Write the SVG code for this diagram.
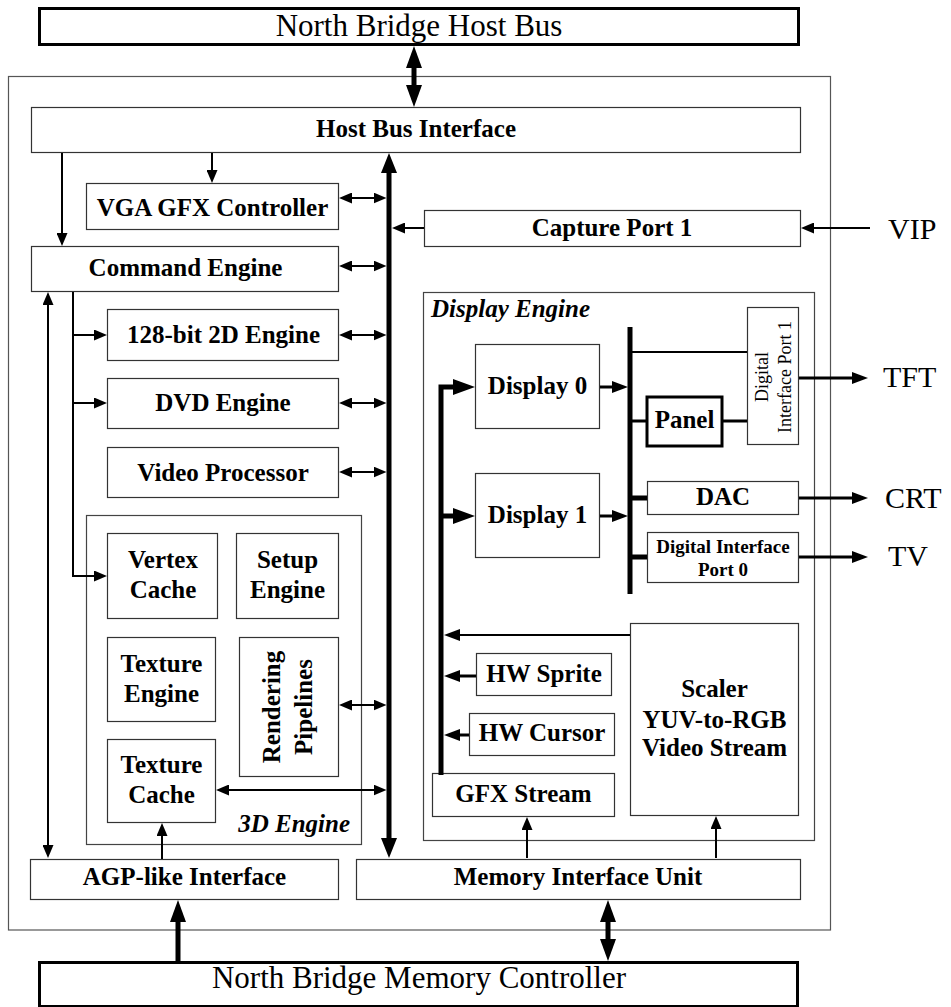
<svg xmlns="http://www.w3.org/2000/svg" width="951" height="1007" viewBox="0 0 951 1007">
<style>
text{font-family:"Liberation Serif","Times New Roman",serif;fill:#000}
.b{font-weight:bold;font-size:25px;text-anchor:middle}
.bi{font-weight:bold;font-style:italic;font-size:25px}
.r{font-size:31px;text-anchor:middle}
.ext{font-size:30px}
.sm{font-weight:bold;font-size:19px;text-anchor:middle}
.rot{font-size:18px;text-anchor:middle}
.box{fill:#fff;stroke:#333;stroke-width:1.2}
.frame{fill:none;stroke:#555;stroke-width:1.2}
.thick{fill:#fff;stroke:#000;stroke-width:3}
.c{fill:none;stroke:#000}
.w2{stroke-width:2}
.w3{stroke-width:3}
.w5{stroke-width:5}
</style>
<defs>
<marker id="s" markerUnits="userSpaceOnUse" viewBox="0 0 13 11" markerWidth="13" markerHeight="11" refX="5" refY="5.5" orient="auto-start-reverse"><path d="M0,0 L13,5.5 L0,11 z" fill="#000"/></marker>
<marker id="m" markerUnits="userSpaceOnUse" viewBox="0 0 16 12" markerWidth="16" markerHeight="12" refX="5" refY="6" orient="auto-start-reverse"><path d="M0,0 L16,6 L0,12 z" fill="#000"/></marker>
<marker id="L" markerUnits="userSpaceOnUse" viewBox="0 0 22 16" markerWidth="22" markerHeight="16" refX="7" refY="8" orient="auto-start-reverse"><path d="M0,0 L22,8 L0,16 z" fill="#000"/></marker>
<marker id="B" markerUnits="userSpaceOnUse" viewBox="0 0 20 16" markerWidth="20" markerHeight="16" refX="6" refY="8" orient="auto-start-reverse"><path d="M0,0 L20,8 L0,16 z" fill="#000"/></marker>
</defs>

<rect x="8.5" y="76.5" width="822" height="853.5" class="frame"/>

<g id="nb-host-bus"><rect x="39.5" y="8.5" width="759" height="36" class="thick"/><text x="419" y="36" class="r">North Bridge Host Bus</text></g>
<g id="host-bus-interface"><rect x="31.5" y="107.5" width="769" height="45" class="box"/><text x="416" y="137" class="b">Host Bus Interface</text></g>
<g id="vga"><rect x="86.5" y="183.5" width="252" height="46" class="box"/><text x="212.5" y="216" class="b">VGA GFX Controller</text></g>
<g id="capture-port"><rect x="424.5" y="210.5" width="376" height="36" class="box"/><text x="612" y="236" class="b">Capture Port 1</text></g>
<g id="command-engine"><rect x="31.5" y="246.5" width="307" height="45" class="box"/><text x="185.5" y="276" class="b">Command Engine</text></g>
<g id="engine-2d"><rect x="107.5" y="309.5" width="231" height="51" class="box"/><text x="223.5" y="343" class="b">128-bit 2D Engine</text></g>
<g id="dvd"><rect x="107.5" y="378.5" width="231" height="50" class="box"/><text x="223" y="411" class="b">DVD Engine</text></g>
<g id="video-processor"><rect x="107.5" y="447.5" width="231" height="50" class="box"/><text x="223" y="481" class="b">Video Processor</text></g>

<g id="engine-3d"><rect x="86.5" y="515.5" width="275" height="329" class="frame" style="stroke:#444"/><text x="350" y="832" class="bi" text-anchor="end">3D Engine</text></g>
<g id="vertex-cache"><rect x="107.5" y="533.5" width="110" height="85" class="box"/><text x="163" y="568" class="b">Vertex</text><text x="163" y="598" class="b">Cache</text></g>
<g id="setup-engine"><rect x="236.5" y="533.5" width="102" height="85" class="box"/><text x="287.5" y="568" class="b">Setup</text><text x="287.5" y="598" class="b">Engine</text></g>
<g id="texture-engine"><rect x="107.5" y="637.5" width="108" height="84" class="box"/><text x="161.5" y="672" class="b">Texture</text><text x="161.5" y="702" class="b">Engine</text></g>
<g id="rendering-pipelines"><rect x="239.5" y="637.5" width="99" height="139" class="box"/><text transform="translate(280,707) rotate(-90)" class="b">Rendering</text><text transform="translate(312,707) rotate(-90)" class="b">Pipelines</text></g>
<g id="texture-cache"><rect x="107.5" y="739.5" width="108" height="83" class="box"/><text x="161.5" y="773" class="b">Texture</text><text x="161.5" y="803" class="b">Cache</text></g>

<g id="display-engine"><rect x="423.5" y="292.5" width="391" height="548" class="frame" style="stroke:#444"/><text x="431" y="317" class="bi">Display Engine</text></g>
<g id="display0"><rect x="475.5" y="344.5" width="124" height="84" class="box"/><text x="537.5" y="394" class="b">Display 0</text></g>
<g id="display1"><rect x="475.5" y="473.5" width="124" height="84" class="box"/><text x="537.5" y="523" class="b">Display 1</text></g>
<g id="dip1"><rect x="747.5" y="307.5" width="51" height="137" class="box"/><text transform="translate(768,377) rotate(-90)" class="rot">Digital</text><text transform="translate(791,377) rotate(-90)" class="rot">Interface Port 1</text></g>
<g id="panel"><rect x="647" y="397" width="75" height="49" class="thick"/><text x="684.5" y="428" class="b">Panel</text></g>
<g id="dac"><rect x="647.5" y="481.5" width="151" height="33" class="box"/><text x="723" y="505" class="b">DAC</text></g>
<g id="dip0"><rect x="647.5" y="532.5" width="151" height="50" class="box"/><text x="723" y="553" class="sm">Digital Interface</text><text x="723" y="576" class="sm">Port 0</text></g>
<g id="scaler"><rect x="630.5" y="623.5" width="168" height="192" class="box"/><text x="714.5" y="697" class="b">Scaler</text><text x="714.5" y="728" class="b">YUV-to-RGB</text><text x="714.5" y="756" class="b">Video Stream</text></g>
<g id="hw-sprite"><rect x="476.5" y="653.5" width="135" height="42" class="box"/><text x="544" y="682" class="b">HW Sprite</text></g>
<g id="hw-cursor"><rect x="469.5" y="713.5" width="145" height="42" class="box"/><text x="542" y="741" class="b">HW Cursor</text></g>
<g id="gfx-stream"><rect x="432.5" y="773.5" width="182" height="43" class="box"/><text x="523.5" y="802" class="b">GFX Stream</text></g>

<g id="agp"><rect x="30.5" y="859.5" width="308" height="40" class="box"/><text x="184.5" y="885" class="b">AGP-like Interface</text></g>
<g id="miu"><rect x="356.5" y="859.5" width="444" height="40" class="box"/><text x="578" y="885" class="b">Memory Interface Unit</text></g>
<g id="nb-memory-controller"><rect x="39.5" y="962.5" width="758" height="44" class="thick"/><text x="419" y="988" class="r">North Bridge Memory Controller</text></g>

<g id="ext-labels">
<text x="888" y="239" class="ext">VIP</text>
<text x="883" y="387" class="ext">TFT</text>
<text x="885" y="508" class="ext">CRT</text>
<text x="888" y="566" class="ext">TV</text>
</g>

<g id="connectors">
<path d="M414,61 V92" class="c w5" marker-start="url(#L)" marker-end="url(#L)"/>
<path d="M389,167 V844" class="c w5" marker-start="url(#B)" marker-end="url(#B)"/>
<path d="M62,153 V238" class="c w2" marker-end="url(#s)"/>
<path d="M212,153 V175" class="c w2" marker-end="url(#s)"/>
<path d="M347,198 H378.5" class="c w2" marker-start="url(#s)" marker-end="url(#s)"/>
<path d="M347,266 H378.5" class="c w2" marker-start="url(#s)" marker-end="url(#s)"/>
<path d="M347,335 H378.5" class="c w2" marker-start="url(#s)" marker-end="url(#s)"/>
<path d="M347,403 H378.5" class="c w2" marker-start="url(#s)" marker-end="url(#s)"/>
<path d="M347,472 H378.5" class="c w2" marker-start="url(#s)" marker-end="url(#s)"/>
<path d="M347,705 H378.5" class="c w2" marker-start="url(#s)" marker-end="url(#s)"/>
<path d="M224,790 H378.5" class="c w2" marker-start="url(#s)" marker-end="url(#s)"/>
<path d="M424,228 H400" class="c w2" marker-end="url(#s)"/>
<path d="M870,228 H809" class="c w2" marker-end="url(#s)"/>
<path d="M73,292 V576 H99" class="c w2" marker-end="url(#s)"/>
<path d="M73,335 H99" class="c w2" marker-end="url(#s)"/>
<path d="M73,403 H99" class="c w2" marker-end="url(#s)"/>
<path d="M48,300 V850" class="c w2" marker-start="url(#s)" marker-end="url(#s)"/>
<path d="M162,859 V831" class="c w2" marker-end="url(#s)"/>
<path d="M178,961 V915" class="c w5" marker-end="url(#L)"/>
<path d="M608,915 V946" class="c w5" marker-start="url(#L)" marker-end="url(#L)"/>
<path d="M527,858 V825" class="c w2" marker-end="url(#s)"/>
<path d="M716,858 V824" class="c w2" marker-end="url(#s)"/>
<path d="M441,775 V387 H460" class="c w5" marker-end="url(#L)"/>
<path d="M441,516 H460" class="c w5" marker-end="url(#L)"/>
<path d="M630,635 H455" class="c w2" marker-end="url(#m)"/>
<path d="M476,676 H455" class="c w3" marker-end="url(#m)"/>
<path d="M469,735 H455" class="c w3" marker-end="url(#m)"/>
<path d="M600,387 H617" class="c w3" marker-end="url(#m)"/>
<path d="M600,516 H617" class="c w3" marker-end="url(#m)"/>
<path d="M630,327 V594" class="c w5"/>
<path d="M630,352 H747" class="c w2"/>
<path d="M630,421 H646 M723,421 H747" class="c w3"/>
<path d="M630,498 H647 M630,557 H647" class="c w5"/>
<path d="M799,378 H857" class="c w3" marker-end="url(#m)"/>
<path d="M799,498 H857" class="c w3" marker-end="url(#m)"/>
<path d="M799,557 H857" class="c w3" marker-end="url(#m)"/>
</g>
</svg>
